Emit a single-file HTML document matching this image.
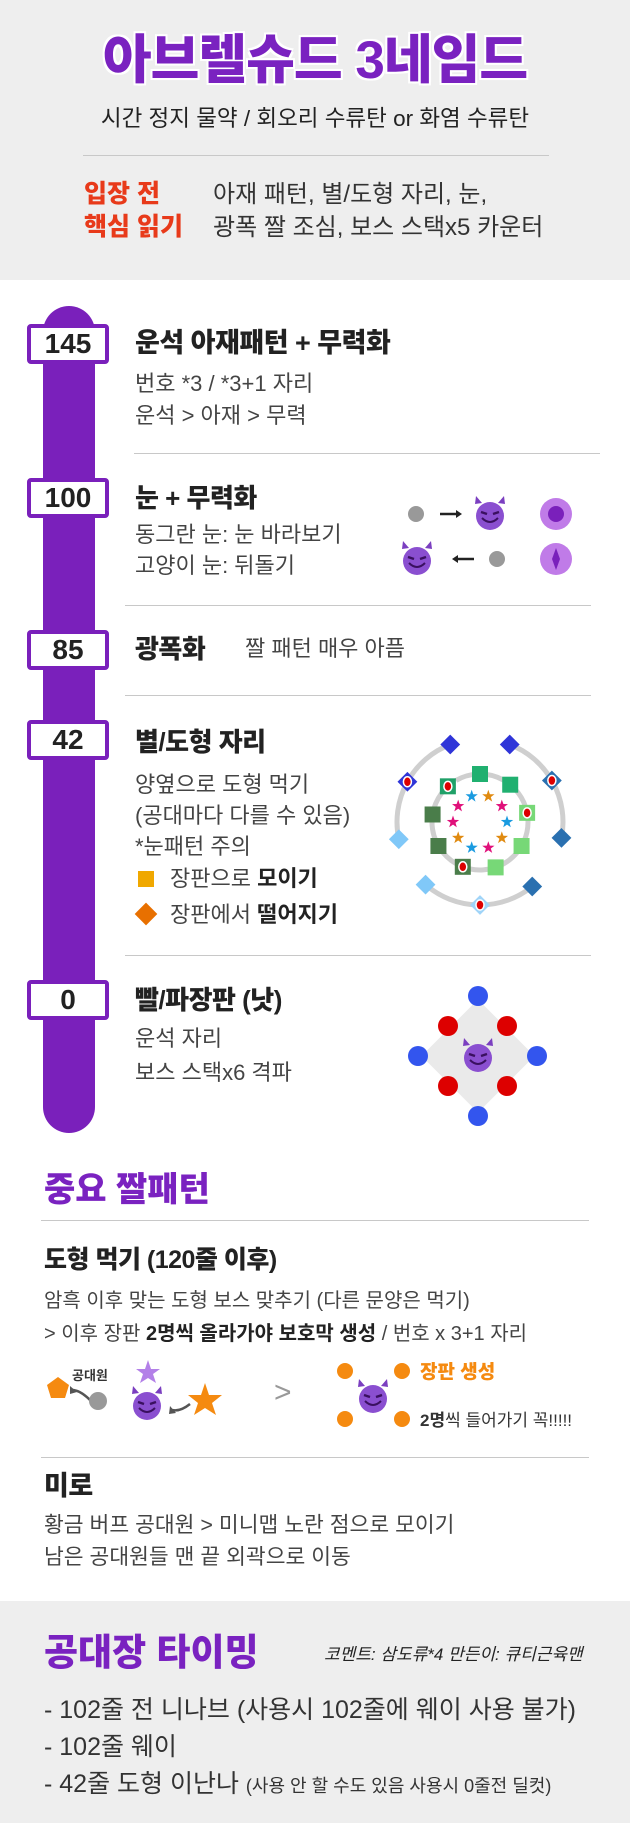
<!DOCTYPE html>
<html><head><meta charset="utf-8">
<style>
*{margin:0;padding:0;box-sizing:border-box}
body{width:630px;height:1823px;background:#fff;font-family:"Liberation Sans","Noto Sans CJK KR",sans-serif;color:#333;position:relative;overflow:hidden}
.a{position:absolute;white-space:nowrap;line-height:1}
.hd{left:0;top:0;width:630px;height:280px;background:#eeeeee}
.ft{left:0;top:1601px;width:630px;height:222px;background:#eeeeee}
.t{font-weight:900;color:#222;font-size:26px;letter-spacing:-0.5px}
.b{font-size:22px;color:#444}
.badge{position:absolute;left:27px;width:82px;height:40px;border:4px solid #7a20bb;background:#fff;border-radius:4px;font:700 28px "Liberation Sans",sans-serif;color:#222;text-align:center;line-height:32px}
.sep{position:absolute;height:1px;background:#c8c8c8}
.pt{font-weight:900;color:#7a22c0}
</style></head><body>
<div class="a hd"></div>
<div class="a" style="left:0;width:630px;text-align:center;top:34px;font-size:53px;font-weight:900;color:#7a22c0;text-shadow:0 0 3px #fff,0 0 3px #fff,2px 2px 0 #fff,-2px -2px 0 #fff,2px -2px 0 #fff,-2px 2px 0 #fff;letter-spacing:-1px">아브렐슈드 3네임드</div>
<div class="a" style="left:0;width:630px;text-align:center;top:108px;font-size:22.5px;color:#222">시간 정지 물약 / 회오리 수류탄 or 화염 수류탄</div>
<div class="sep" style="left:83px;width:466px;top:155px"></div>
<div class="a" style="left:84px;top:178px;font-size:25px;font-weight:900;color:#e83a1a;line-height:33px">입장 전<br>핵심 읽기</div>
<div class="a" style="left:213px;top:178px;font-size:24px;color:#333;line-height:33px">아재 패턴, 별/도형 자리, 눈,<br>광폭 짤 조심, 보스 스택x5 카운터</div>

<div class="a" style="left:43px;top:306px;width:52px;height:827px;background:#7a20bb;border-radius:26px"></div>

<div class="badge" style="top:324px">145</div>
<div class="a t" style="left:135px;top:330px;font-size:27px">운석 아재패턴 + 무력화</div>
<div class="a b" style="left:135px;top:368px;line-height:32px">번호 *3 / *3+1 자리<br>운석 &gt; 아재 &gt; 무력</div>
<div class="sep" style="left:134px;width:466px;top:453px"></div>

<div class="badge" style="top:478px">100</div>
<div class="a t" style="left:135px;top:485px">눈 + 무력화</div>
<div class="a b" style="left:135px;top:519px;line-height:31px">동그란 눈: 눈 바라보기<br>고양이 눈: 뒤돌기</div>
<svg class="a" style="left:390px;top:490px" width="200" height="95">
<defs><g id="dv"><path d="M-15 -12 L-14 -20 L-8 -13 Z M15 -12 L14 -20 L8 -13 Z" fill="#7b3fc0"/><circle r="14" fill="#8a4fd0"/><path d="M-8 2 Q0 10 8 2" stroke="#3a1060" stroke-width="2" fill="none"/><path d="M-9 -4 L-3 -2 M9 -4 L3 -2" stroke="#3a1060" stroke-width="2.5"/></g></defs>
<circle cx="26" cy="24" r="8" fill="#999"/><path d="M50 24 H68" stroke="#222" stroke-width="2.5"/><path d="M66 20 L72 24 L66 28Z" fill="#222"/>
<use href="#dv" x="100" y="26"/>
<circle cx="166" cy="24" r="16" fill="#c07be8"/><circle cx="166" cy="24" r="8" fill="#7a20bb"/>
<use href="#dv" x="27" y="71"/>
<path d="M66 69 H84" stroke="#222" stroke-width="2.5"/><path d="M68 65 L62 69 L68 73Z" fill="#222"/>
<circle cx="107" cy="69" r="8" fill="#999"/>
<circle cx="166" cy="69" r="16" fill="#c07be8"/><path d="M166 58 L170 69 L166 80 L162 69Z" fill="#7a20bb"/>
</svg>
<div class="sep" style="left:125px;width:466px;top:605px"></div>

<div class="badge" style="top:630px">85</div>
<div class="a t" style="left:135px;top:636px">광폭화</div>
<div class="a b" style="left:245px;top:638px">짤 패턴 매우 아픔</div>
<div class="sep" style="left:125px;width:466px;top:695px"></div>

<div class="badge" style="top:720px">42</div>
<div class="a t" style="left:135px;top:729px">별/도형 자리</div>
<div class="a b" style="left:135px;top:769px;line-height:31px">양옆으로 도형 먹기<br>(공대마다 다를 수 있음)<br>*눈패턴 주의</div>
<div class="a" style="left:138px;top:871px;width:16px;height:16px;background:#f0a800"></div>
<div class="a b" style="left:170px;top:868px">장판으로 <b style="color:#222">모이기</b></div>
<div class="a" style="left:138px;top:906px;width:16px;height:16px;background:#e87000;transform:rotate(45deg)"></div>
<div class="a b" style="left:170px;top:904px">장판에서 <b style="color:#222">떨어지기</b></div>
<svg class="a" id="star" style="left:380px;top:730px" width="200" height="190"></svg>
<div class="sep" style="left:125px;width:466px;top:955px"></div>

<div class="badge" style="top:980px">0</div>
<div class="a t" style="left:135px;top:987px">빨/파장판 (낫)</div>
<div class="a b" style="left:135px;top:1022px;line-height:34px">운석 자리<br>보스 스택x6 격파</div>
<svg class="a" style="left:398px;top:976px" width="160" height="160">
<rect x="40" y="40" width="80" height="80" fill="#eaeaea" transform="rotate(45 80 80)"/>
<g fill="#3355ee"><circle cx="80" cy="20" r="10"/><circle cx="80" cy="140" r="10"/><circle cx="20" cy="80" r="10"/><circle cx="139" cy="80" r="10"/></g>
<g fill="#dd0000"><circle cx="50" cy="50" r="10"/><circle cx="109" cy="50" r="10"/><circle cx="50" cy="110" r="10"/><circle cx="109" cy="110" r="10"/></g>
<use href="#dv" x="80" y="82"/>
</svg>

<div class="a pt" style="left:44px;top:1173px;font-size:34px">중요 짤패턴</div>
<div class="sep" style="left:41px;width:548px;top:1220px"></div>
<div class="a t" style="left:44px;top:1248px;font-size:25px">도형 먹기 (120줄 이후)</div>
<div class="a b" style="left:44px;top:1285px;line-height:33px;font-size:20px">암흑 이후 맞는 도형 보스 맞추기 (다른 문양은 먹기)<br>&gt; 이후 장판 <b style="color:#222">2명씩 올라가야 보호막 생성</b> / 번호 x 3+1 자리</div>
<svg class="a" style="left:40px;top:1350px" width="560" height="90">
<polygon points="18,27 29,35 25,48 11,48 7,35" fill="#f58a10"/>
<text x="32" y="30" font-size="13" font-weight="700" fill="#333" font-family="Liberation Sans,Noto Sans CJK KR,sans-serif">공대원</text>
<path d="M50 50 Q40 40 32 40" stroke="#555" stroke-width="2.5" fill="none"/><path d="M30 36 L30 44 L37 42Z" fill="#555"/>
<circle cx="58" cy="51" r="9" fill="#999"/>
<polygon points="108,10 111,19 120,19 113,24 116,33 108,28 100,33 103,24 96,19 105,19" fill="#b380e8"/>
<use href="#dv" x="107" y="56"/>
<path d="M150 54 Q140 62 132 60" stroke="#555" stroke-width="2.5" fill="none"/><path d="M130 56 L129 64 L136 63Z" fill="#555"/>
<polygon points="165,33 169,45 182,45 172,53 176,65 165,58 154,65 158,53 148,45 161,45" fill="#f58a10"/>
<text x="234" y="52" font-size="30" fill="#999" font-family="Liberation Sans,sans-serif">&gt;</text>
<g fill="#f58a10"><circle cx="305" cy="21" r="8"/><circle cx="362" cy="21" r="8"/><circle cx="305" cy="69" r="8"/><circle cx="362" cy="69" r="8"/></g>
<use href="#dv" x="333" y="49"/>
<text x="380" y="28" font-size="19" font-weight="900" fill="#f58a10" font-family="Liberation Sans,Noto Sans CJK KR,sans-serif">장판 생성</text>
<text x="380" y="76" font-size="17" fill="#333" font-family="Liberation Sans,Noto Sans CJK KR,sans-serif"><tspan font-weight="700">2명</tspan>씩 들어가기 꼭!!!!!</text>
</svg>
<div class="sep" style="left:41px;width:548px;top:1457px"></div>
<div class="a t" style="left:44px;top:1473px;font-size:27px">미로</div>
<div class="a b" style="left:44px;top:1509px;line-height:32px;font-size:21.5px">황금 버프 공대원 &gt; 미니맵 노란 점으로 모이기<br>남은 공대원들 맨 끝 외곽으로 이동</div>

<div class="a ft"></div>
<div class="a pt" style="left:44px;top:1634px;font-size:37px">공대장 타이밍</div>
<div class="a" style="left:324px;top:1646px;font-size:17px;color:#222;font-style:italic">코멘트: 삼도류*4 만든이: 큐티근육맨</div>
<div class="a" style="left:44px;top:1692px;font-size:25px;color:#333;line-height:37px">- 102줄 전 니나브 (사용시 102줄에 웨이 사용 불가)<br>- 102줄 웨이<br>- 42줄 도형 이난나 <span style="font-size:18px">(사용 안 할 수도 있음 사용시 0줄전 딜컷)</span></div>

<script>
const outerAngles=[-111,-69,-151,-30,168,11,131,51,90];
const outerColors=["#2f35d8","#2f35d8","#2f35d8","#2a70b0","#80c8f8","#2a70b0","#80c8f8","#2a70b0","#9fd4f8"];
const outerDots=[0,0,1,1,0,0,0,0,1];
const innerAngles=[-90,-51,-11,30,71,111,150,189,228];
const innerColors=["#20b070","#20b070","#77d877","#77d877","#77d877","#4a7d4a","#4a7d4a","#4a7d4a","#20a068"];
const innerDots=[0,0,1,0,0,1,0,0,1];
const starAngles=[-108,-72,-36,0,36,72,108,144,180,216];
const starColors=["#1a9be0","#e08a10","#e0107a","#1a9be0","#e08a10","#e0107a","#1a9be0","#e08a10","#e0107a","#e0107a"];
const svg=document.getElementById('star');
const NS="http://www.w3.org/2000/svg";
const cx=100,cy=92,R1=83,R2=48,R3=27;
const px=(a,r)=>[cx+r*Math.cos(a*Math.PI/180),cy+r*Math.sin(a*Math.PI/180)];
function mk(t,at){const e=document.createElementNS(NS,t);for(const k in at)e.setAttribute(k,at[k]);svg.appendChild(e);return e;}
function arc(a1,a2,r,sw){const p=px(a1,r),q=px(a2,r);const large=Math.abs(a2-a1)>180?1:0;const sweep=a2>a1?1:0;
 const e=mk('path',{d:`M${p[0]} ${p[1]} A${r} ${r} 0 ${large} ${sweep} ${q[0]} ${q[1]}`,stroke:'#cfcfcf','stroke-width':sw,fill:'none'});
 }
arc(-111,-192,R1,5);arc(-69,11,R1,5);arc(131,51,R1,5);
arc(-120,230,R2,5);
outerAngles.forEach((a,i)=>{const [x,y]=px(a,R1);const e=mk('rect',{x:x-7,y:y-7,width:14,height:14,fill:outerColors[i],transform:`rotate(45 ${x} ${y})`});
 
 if(outerDots[i]){const d=mk('ellipse',{cx:x,cy:y,rx:4,ry:5,fill:'#d00',stroke:'#fff','stroke-width':1.5});}});
innerAngles.forEach((a,i)=>{const [x,y]=px(a,R2);const e=mk('rect',{x:x-8,y:y-8,width:16,height:16,fill:innerColors[i]});
 
 if(innerDots[i]){const d=mk('ellipse',{cx:x,cy:y,rx:4,ry:5,fill:'#d00',stroke:'#fff','stroke-width':1.5});}});
starAngles.forEach((a,i)=>{const [x,y]=px(a,R3);let pts=[];for(let k=0;k<10;k++){const r=k%2?2.6:6.5;const t=(-90+k*36)*Math.PI/180;pts.push((x+r*Math.cos(t)).toFixed(1)+','+(y+r*Math.sin(t)).toFixed(1));}
 const e=mk('polygon',{points:pts.join(' '),fill:starColors[i]});});
</script>
</body></html>
